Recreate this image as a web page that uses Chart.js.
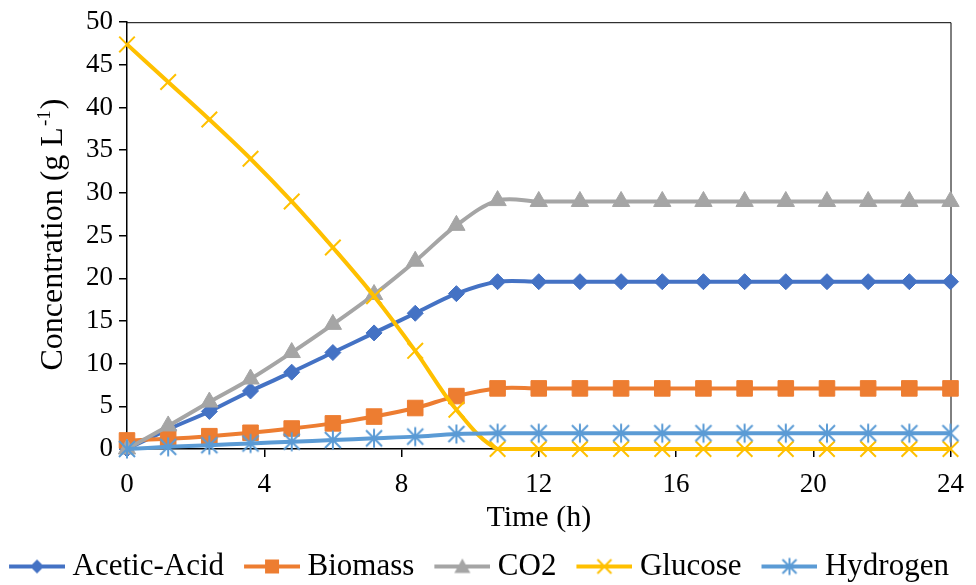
<!DOCTYPE html>
<html>
<head>
<meta charset="utf-8">
<script src="https://cdn.jsdelivr.net/npm/chart.js@4.4.1/dist/chart.umd.min.js"></script>
<style>
  html, body { margin: 0; padding: 0; background: #fff; }
</style>
</head>
<body>
<canvas id="chart" width="976" height="585"></canvas>
<script>
// time points (h)
const hours = [0, 1.2, 2.4, 3.6, 4.8, 6, 7.2, 8.4, 9.6, 10.8, 12, 13.2, 14.4, 15.6, 16.8, 18, 19.2, 20.4, 21.6, 22.8, 24];

// concentrations (g/L)
const aceticAcid = [0, 2.3, 4.4, 6.8, 9.0, 11.3, 13.6, 15.9, 18.2, 19.6, 19.6, 19.6, 19.6, 19.6, 19.6, 19.6, 19.6, 19.6, 19.6, 19.6, 19.6];
const biomass    = [1.0, 1.2, 1.5, 1.9, 2.4, 3.0, 3.8, 4.8, 6.2, 7.1, 7.1, 7.1, 7.1, 7.1, 7.1, 7.1, 7.1, 7.1, 7.1, 7.1, 7.1];
const co2        = [0, 2.7, 5.5, 8.2, 11.3, 14.6, 18.1, 22.0, 26.2, 29.1, 29.0, 29.0, 29.0, 29.0, 29.0, 29.0, 29.0, 29.0, 29.0, 29.0, 29.0];
const glucose    = [47.4, 43.0, 38.6, 34.0, 29.0, 23.6, 17.9, 11.5, 4.6, 0, 0, 0, 0, 0, 0, 0, 0, 0, 0, 0, 0];
const hydrogen   = [0, 0.25, 0.45, 0.65, 0.85, 1.05, 1.25, 1.45, 1.75, 1.85, 1.85, 1.85, 1.85, 1.85, 1.85, 1.85, 1.85, 1.85, 1.85, 1.85, 1.85];

const seriesNames = ['Acetic-Acid', 'Biomass', 'CO2', 'Glucose', 'Hydrogen'];
const seriesColors = ['#4472C4', '#ED7D31', '#A5A5A5', '#FFC000', '#5B9BD5'];
const yTicks = { min: 0, max: 50, step: 5 };
const xTicks = { min: 0, max: 24, step: 4 };

const FONT = '"Liberation Serif", "Times New Roman", serif';

// little canvases for the asterisk marker and legend icons
function drawShape(g, shape, cx, cy, s) {
  g.beginPath();
  if (shape === 'diamond') {
    g.moveTo(cx, cy - s); g.lineTo(cx + s, cy); g.lineTo(cx, cy + s); g.lineTo(cx - s, cy); g.closePath(); g.fill();
  } else if (shape === 'square') {
    g.fillRect(cx - s, cy - s, 2 * s, 2 * s);
  } else if (shape === 'triangle') {
    g.moveTo(cx, cy - s); g.lineTo(cx + s, cy + s * 0.8); g.lineTo(cx - s, cy + s * 0.8); g.closePath(); g.fill();
  } else if (shape === 'x') {
    g.lineWidth = 2;
    g.moveTo(cx - s, cy - s); g.lineTo(cx + s, cy + s);
    g.moveTo(cx + s, cy - s); g.lineTo(cx - s, cy + s); g.stroke();
  } else if (shape === 'asterisk') {
    g.lineWidth = 2;
    g.moveTo(cx - s, cy - s); g.lineTo(cx + s, cy + s);
    g.moveTo(cx + s, cy - s); g.lineTo(cx - s, cy + s);
    g.moveTo(cx, cy - s * 1.2); g.lineTo(cx, cy + s * 1.2); g.stroke();
  }
}

function asteriskMarker(color) {
  const c = document.createElement('canvas');
  c.width = 22; c.height = 22;
  const g = c.getContext('2d');
  g.strokeStyle = color; g.fillStyle = color;
  drawShape(g, 'asterisk', 11, 11, 8);
  return c;
}

// legend icon: line with marker; the canvas is wider than the legend box
// so the line sits close to the text like in Excel
const LEG_BOX = 50, LEG_W = 66, LEG_LINE = 56;
const legendShapes = ['diamond', 'square', 'triangle', 'x', 'asterisk'];
const legendSizes = [7, 7, 8, 7, 7];
function legendIcon(i) {
  const c = document.createElement('canvas');
  c.width = LEG_W; c.height = 22;
  const g = c.getContext('2d');
  const x0 = LEG_W - LEG_LINE;
  g.strokeStyle = seriesColors[i]; g.fillStyle = seriesColors[i];
  g.lineWidth = 4;
  g.beginPath(); g.moveTo(x0, 11); g.lineTo(LEG_W, 11); g.stroke();
  drawShape(g, legendShapes[i], x0 + LEG_LINE / 2, 11, legendSizes[i]);
  return c;
}
const legendIcons = seriesNames.map((n, i) => legendIcon(i));

const toPoints = arr => hours.map((h, i) => ({ x: h, y: arr[i] }));

function series(i, values, pointStyle, radius, extra) {
  return Object.assign({
    label: seriesNames[i],
    data: toPoints(values),
    borderColor: seriesColors[i],
    backgroundColor: seriesColors[i],
    pointBackgroundColor: seriesColors[i],
    pointBorderColor: seriesColors[i],
    borderWidth: 4,
    tension: 0.35,
    pointStyle: pointStyle,
    pointRadius: radius,
    pointHoverRadius: radius,
    pointBorderWidth: 1,
    clip: false,
    order: 5 - i
  }, extra || {});
}

const framePlugin = {
  id: 'frame',
  beforeDatasetsDraw(chart) {
    const { ctx, chartArea: a } = chart;
    ctx.save();
    ctx.strokeStyle = '#000';
    ctx.lineWidth = 1;
    ctx.beginPath();
    ctx.moveTo(a.left, a.top + 0.5);
    ctx.lineTo(a.right + 0.5, a.top + 0.5);
    ctx.lineTo(a.right + 0.5, a.bottom);
    ctx.stroke();
    ctx.restore();
  },
  afterDraw(chart) {
    // y axis title with a real superscript
    const { ctx, chartArea: a } = chart;
    const main = 'Concentration (g L', sup = '-1', end = ')';
    ctx.save();
    ctx.translate(62, (a.top + a.bottom) / 2);
    ctx.rotate(-Math.PI / 2);
    ctx.fillStyle = '#000';
    ctx.textBaseline = 'alphabetic';
    ctx.font = '32px ' + FONT;
    const wMain = ctx.measureText(main).width;
    const wEnd = ctx.measureText(end).width;
    ctx.font = '19px ' + FONT;
    const wSup = ctx.measureText(sup).width;
    let x = -(wMain + wSup + wEnd) / 2;
    ctx.font = '32px ' + FONT;
    ctx.fillText(main, x, 0);
    ctx.font = '19px ' + FONT;
    ctx.fillText(sup, x + wMain + 1, -12);
    ctx.font = '32px ' + FONT;
    ctx.fillText(end, x + wMain + wSup + 2, 0);
    ctx.restore();
  }
};

new Chart(document.getElementById('chart'), {
  type: 'line',
  data: {
    datasets: [
      series(0, aceticAcid, 'rectRot', 8),
      series(1, biomass, 'rect', 11),
      series(2, co2, 'triangle', 10),
      series(3, glucose, 'crossRot', 11, { pointBorderWidth: 2 }),
      series(4, hydrogen, asteriskMarker(seriesColors[4]), 10)
    ]
  },
  options: {
    responsive: false,
    animation: false,
    layout: { padding: { top: 19, right: -20, left: -40, bottom: -7 } },
    plugins: {
      tooltip: { enabled: false },
      legend: {
        position: 'bottom',
        labels: {
          usePointStyle: true,
          pointStyleWidth: LEG_BOX,
          padding: 18,
          color: '#000',
          font: { family: FONT, size: 31 },
          generateLabels(chart) {
            const items = Chart.defaults.plugins.legend.labels.generateLabels(chart);
            items.sort((p, q) => p.datasetIndex - q.datasetIndex);
            items.forEach(it => { it.pointStyle = legendIcons[it.datasetIndex]; });
            return items;
          }
        }
      }
    },
    scales: {
      x: {
        type: 'linear',
        min: xTicks.min,
        max: xTicks.max,
        ticks: { stepSize: xTicks.step, color: '#000', font: { family: FONT, size: 27 }, padding: 12, maxRotation: 0 },
        grid: { drawOnChartArea: false, drawTicks: true, tickLength: 8, color: '#000', lineWidth: 1.5 },
        border: { display: true, color: '#000', width: 1.5 },
        title: { display: true, text: 'Time (h)', color: '#000', font: { family: FONT, size: 30, lineHeight: 0.8 }, padding: { top: 0, bottom: 3 } },
        afterFit(scale) { scale.height = 84; }
      },
      y: {
        min: yTicks.min,
        max: yTicks.max,
        ticks: { stepSize: yTicks.step, autoSkip: false, color: '#000', font: { family: FONT, size: 27 }, padding: 6 },
        grid: { drawOnChartArea: false, drawTicks: true, tickLength: 8, color: '#000', lineWidth: 1.5 },
        border: { display: true, color: '#000', width: 1.5 },
        afterFit(scale) { scale.width = 167; }
      },
      // empty spacer on the right so the legend can use the full width
      y2: {
        type: 'linear',
        position: 'right',
        ticks: { display: false },
        grid: { display: false },
        border: { display: false },
        afterFit(scale) { scale.width = 39; }
      }
    }
  },
  plugins: [framePlugin]
});
</script>
</body>
</html>
